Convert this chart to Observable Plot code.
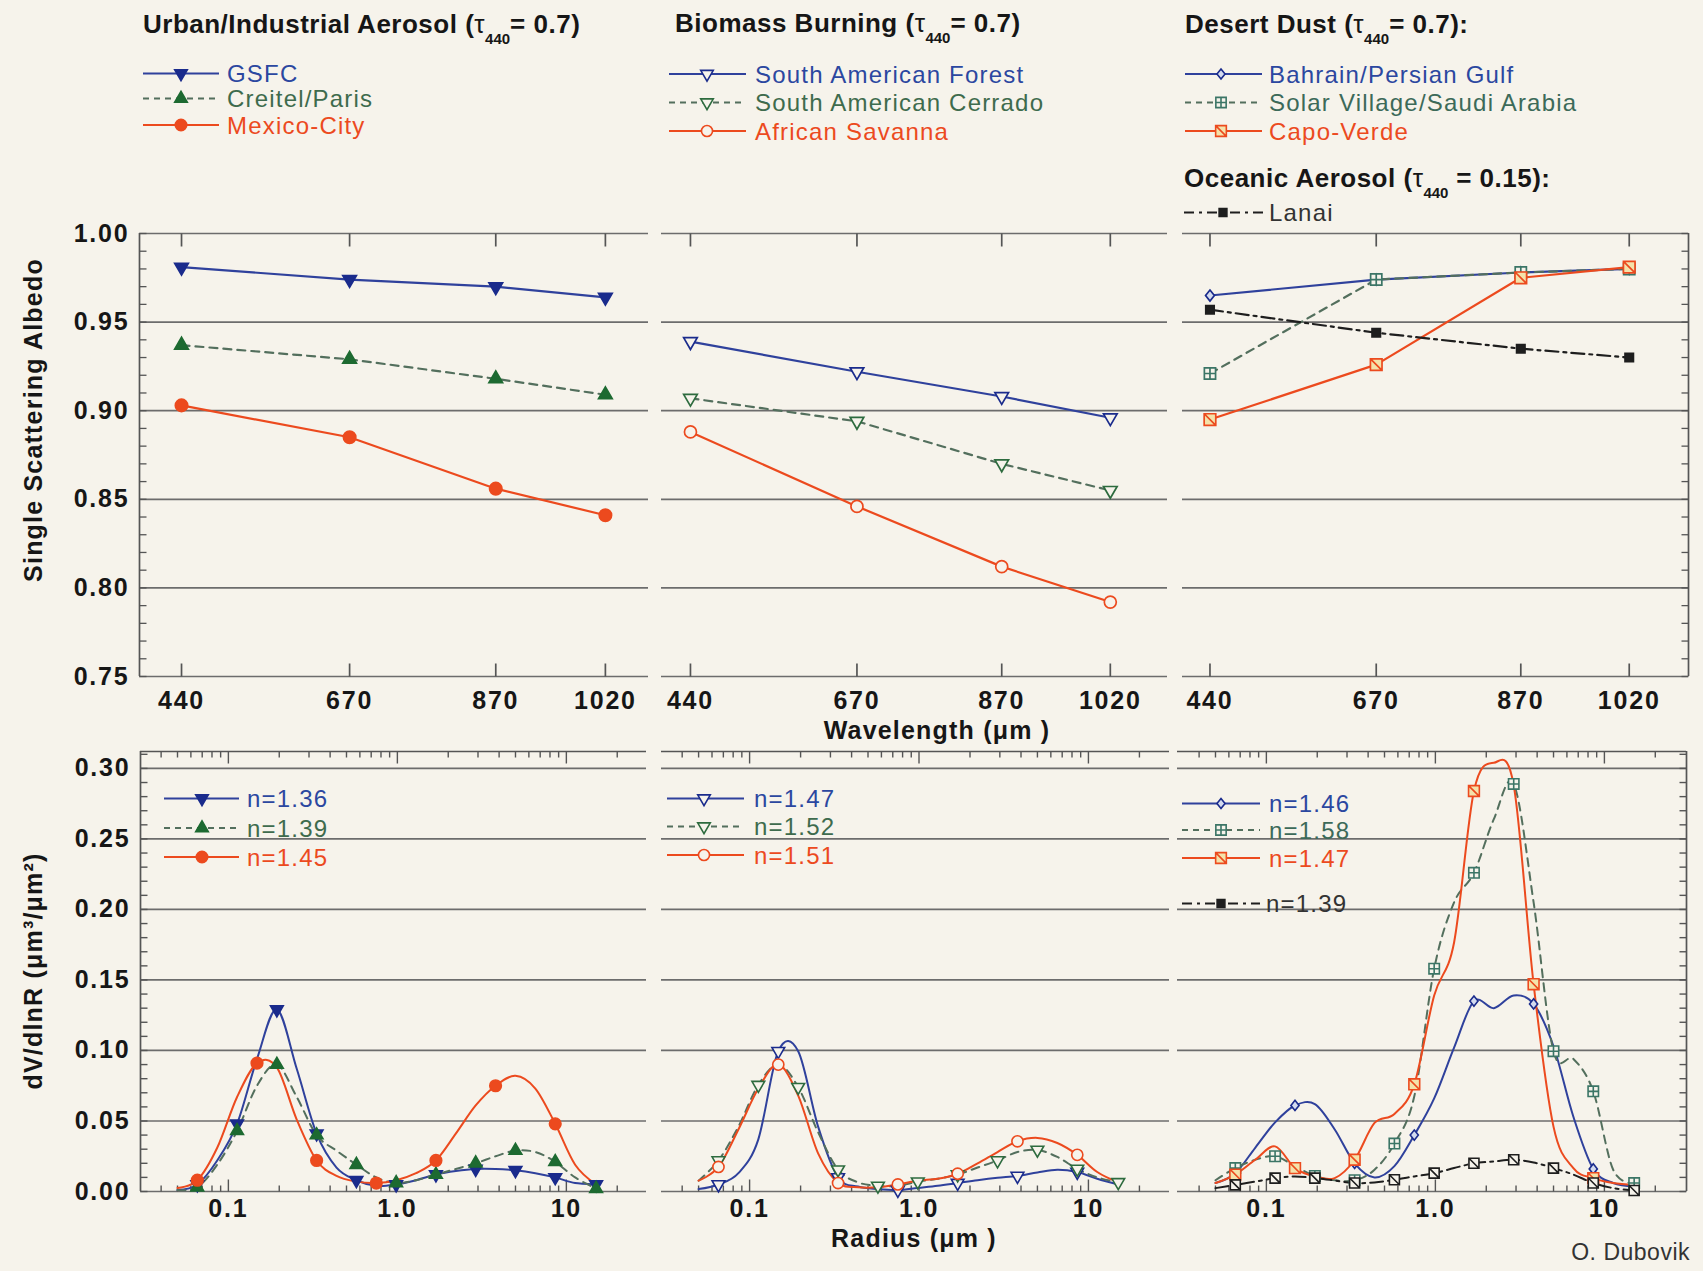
<!DOCTYPE html>
<html>
<head>
<meta charset="utf-8">
<script src="https://cdn.jsdelivr.net/npm/d3@7"></script>
<script src="https://cdn.jsdelivr.net/npm/@observablehq/plot@0.6"></script>
<style>
  html, body { margin: 0; padding: 0; background: #f6f3eb; }
  #root { position: relative; width: 1703px; height: 1271px; overflow: hidden; background: #f6f3eb; }
  #root svg { position: absolute; left: 0; top: 0; background: transparent !important; overflow: visible; }
</style>
</head>
<body>
<div id="root"></div>
<script>
const W = 1703, H = 1271;
const FONT = "'Liberation Sans', Arial, Helvetica, sans-serif";
const CREAM = "#f6f3eb", GRID = "#6c6c6c", AXIS = "#555555", TXT = "#161616";
const BLUE = "#2f419c", BLUE_D = "#1a2b8c", GREEN = "#536f5d", GREEN_D = "#1d6a31", GREEN_O = "#2d6b3e",
      RED = "#ec4a1e", TEAL = "#3b7566", BLACK = "#1e1e1e";

// ---------------- data: single scattering albedo vs wavelength ----------------
const wavelengths = [440, 670, 870, 1020];
const ssaTicks = [0.75, 0.80, 0.85, 0.90, 0.95, 1.00];
const ssa_GSFC = [0.981, 0.974, 0.970, 0.964];
const ssa_Creteil = [0.937, 0.929, 0.918, 0.909];
const ssa_MexicoCity = [0.903, 0.885, 0.856, 0.841];
const ssa_SAForest = [0.939, 0.922, 0.908, 0.896];
const ssa_SACerrado = [0.907, 0.894, 0.870, 0.855];
const ssa_AfricanSavanna = [0.888, 0.846, 0.812, 0.792];
const ssa_Bahrain = [0.965, 0.974, 0.978, 0.980];
const ssa_SolarVillage = [0.921, 0.974, 0.978, 0.980];
const ssa_CapoVerde = [0.895, 0.926, 0.975, 0.981];
const ssa_Lanai = [0.957, 0.944, 0.935, 0.930];

// ---------------- data: volume size distributions ----------------
const radii = [0.05, 0.0655, 0.0859, 0.1126, 0.1477, 0.1936, 0.2538, 0.3328, 0.4364, 0.5722, 0.7502,
               0.9836, 1.290, 1.691, 2.217, 2.907, 3.812, 4.998, 6.553, 8.593, 11.27, 15.0];
const dvTicks = [0, 0.05, 0.10, 0.15, 0.20, 0.25, 0.30];
const rMajor = [0.1, 1, 10];
const rMajorLabels = ["0.1", "1.0", "10"];
const rMinor = [0.04, 0.05, 0.06, 0.07, 0.08, 0.09, 0.2, 0.3, 0.4, 0.5, 0.6, 0.7, 0.8, 0.9,
                2, 3, 4, 5, 6, 7, 8, 9, 20];
const dv_GSFC = [0.001, 0.005, 0.022, 0.048, 0.094, 0.129, 0.087, 0.041, 0.017, 0.008, 0.004,
                 0.005, 0.008, 0.012, 0.0145, 0.016, 0.016, 0.015, 0.013, 0.010, 0.006, 0.005];
const dv_Creteil = [0.001, 0.003, 0.019, 0.043, 0.075, 0.090, 0.067, 0.040, 0.029, 0.019, 0.010,
                    0.006, 0.008, 0.012, 0.016, 0.020, 0.025, 0.029, 0.028, 0.021, 0.010, 0.002];
const dv_MexicoCity = [0.0025, 0.008, 0.031, 0.067, 0.091, 0.088, 0.051, 0.022, 0.011, 0.007, 0.006,
                       0.008, 0.013, 0.022, 0.041, 0.061, 0.075, 0.082, 0.073, 0.048, 0.019, 0.005];
const dv_SAForest = [0.0017, 0.005, 0.013, 0.037, 0.0995, 0.0995, 0.046, 0.010, 0.0035, 0.0017, 0.001,
                     0.0025, 0.004, 0.006, 0.008, 0.0097, 0.011, 0.0135, 0.0155, 0.0138, 0.009, 0.005];
const dv_SACerrado = [0.0077, 0.022, 0.046, 0.0755, 0.090, 0.074, 0.042, 0.0155, 0.0065, 0.004, 0.004,
                      0.007, 0.009, 0.012, 0.017, 0.022, 0.028, 0.0295, 0.0245, 0.016, 0.010, 0.0065];
const dv_AfricanSavanna = [0.0077, 0.0174, 0.044, 0.073, 0.090, 0.068, 0.027, 0.006, 0.003, 0.003, 0.005,
                           0.0077, 0.009, 0.0126, 0.020, 0.028, 0.0356, 0.038, 0.0344, 0.026, 0.0138, 0.0065];
const dv_Bahrain = [0.006, 0.013, 0.031, 0.049, 0.061, 0.062, 0.044, 0.020, 0.010, 0.018, 0.040,
                    0.066, 0.102, 0.135, 0.130, 0.139, 0.133, 0.103, 0.053, 0.016, 0.006, 0.0036];
const dv_SolarVillage = [0.008, 0.0166, 0.0225, 0.025, 0.018, 0.011, 0.008, 0.008, 0.0154, 0.034, 0.0675,
                         0.158, 0.205, 0.226, 0.264, 0.289, 0.205, 0.0995, 0.094, 0.071, 0.0154, 0.006];
const dv_CapoVerde = [0.006, 0.012, 0.0225, 0.032, 0.0166, 0.0107, 0.0095, 0.0225, 0.0486, 0.055, 0.076,
                      0.139, 0.1766, 0.284, 0.304, 0.288, 0.147, 0.046, 0.0166, 0.0095, 0.006, 0.0047];
const dv_Lanai = [0.0024, 0.0047, 0.007, 0.0095, 0.0107, 0.0095, 0.0078, 0.006, 0.0064, 0.0083, 0.0107,
                  0.013, 0.0166, 0.020, 0.0213, 0.0225, 0.0206, 0.0166, 0.012, 0.006, 0.0024, 0.0007];
// which size bins carry a marker
const everyOther = [1, 3, 5, 7, 9, 11, 13, 15, 17, 19, 21];
const everyThird = [1, 4, 7, 10, 13, 16, 19];

// ---------------- labels ----------------
const urbanNames = ["GSFC", "Creitel/Paris", "Mexico-City"];
const biomassNames = ["South American Forest", "South American Cerrado", "African Savanna"];
const dustNames = ["Bahrain/Persian Gulf", "Solar Village/Saudi Arabia", "Capo-Verde"];
const oceanNames = ["Lanai"];
const urbanN = ["n=1.36", "n=1.39", "n=1.45"];
const biomassN = ["n=1.47", "n=1.52", "n=1.51"];
const dustN = ["n=1.46", "n=1.58", "n=1.47"];
const oceanN = ["n=1.39"];

// ---------------- symbols ----------------
const rad = s => Math.sqrt(s / Math.PI);
const symTriDown = {draw(c, s) { const r = rad(s), w = r * 1.1, h = r * 1.9; c.moveTo(-w, -h / 3); c.lineTo(w, -h / 3); c.lineTo(0, 2 * h / 3); c.closePath(); }};
const symTriUp = {draw(c, s) { const r = rad(s), w = r * 1.1, h = r * 1.9; c.moveTo(-w, h / 3); c.lineTo(w, h / 3); c.lineTo(0, -2 * h / 3); c.closePath(); }};
const symCircle = {draw(c, s) { const r = rad(s); c.moveTo(r, 0); c.arc(0, 0, r, 0, 2 * Math.PI); }};
const symDiamond = {draw(c, s) { const r = rad(s); c.moveTo(0, -r); c.lineTo(0.8 * r, 0); c.lineTo(0, r); c.lineTo(-0.8 * r, 0); c.closePath(); }};
const symSquare = {draw(c, s) { const r = rad(s); c.rect(-r, -r, 2 * r, 2 * r); }};
const symSqPlus = {draw(c, s) { const r = rad(s); c.rect(-r, -r, 2 * r, 2 * r); c.moveTo(0, -r); c.lineTo(0, r); c.moveTo(-r, 0); c.lineTo(r, 0); }};
const symSqSlash = {draw(c, s) { const r = rad(s); c.rect(-r, -r, 2 * r, 2 * r); c.moveTo(-r, -r); c.lineTo(r, r); }};
const tickSym = (dx, dy) => ({draw(c) { c.moveTo(0, 0); c.lineTo(dx, dy); }});

// ---------------- series styles ----------------
const DASH = "8,6", DASHDOT = "13,5,3,5";
const sGSFC = {ssa: ssa_GSFC, dv: dv_GSFC, mk: everyOther, line: BLUE, dash: null, sym: symTriDown, fill: BLUE_D, stroke: BLUE_D, r: 6.2, color: "#2b47a0"};
const sCret = {ssa: ssa_Creteil, dv: dv_Creteil, mk: everyOther, line: GREEN, dash: DASH, sym: symTriUp, fill: GREEN_D, stroke: GREEN_D, r: 6.2, color: "#3e6b4d"};
const sMex = {ssa: ssa_MexicoCity, dv: dv_MexicoCity, mk: everyThird, line: RED, dash: null, sym: symCircle, fill: RED, stroke: RED, r: 6.2, color: RED};
const sSAF = {ssa: ssa_SAForest, dv: dv_SAForest, mk: everyThird, line: BLUE, dash: null, sym: symTriDown, fill: CREAM, stroke: BLUE_D, r: 6.2, color: "#2b47a0"};
const sSAC = {ssa: ssa_SACerrado, dv: dv_SACerrado, mk: everyOther, line: GREEN, dash: DASH, sym: symTriDown, fill: CREAM, stroke: GREEN_O, r: 6.2, color: "#3e6b4d"};
const sAFS = {ssa: ssa_AfricanSavanna, dv: dv_AfricanSavanna, mk: everyThird, line: RED, dash: null, sym: symCircle, fill: CREAM, stroke: RED, r: 6, color: RED};
const sBAH = {ssa: ssa_Bahrain, dv: dv_Bahrain, mk: everyThird, line: BLUE, dash: null, sym: symDiamond, fill: "#d4dbef", stroke: BLUE_D, r: 5.5, color: "#2b47a0"};
const sSOL = {ssa: ssa_SolarVillage, dv: dv_SolarVillage, mk: everyOther, line: GREEN, dash: DASH, sym: symSqPlus, fill: CREAM, stroke: TEAL, r: 5.6, color: "#3c6a59"};
const sCAP = {ssa: ssa_CapoVerde, dv: dv_CapoVerde, mk: everyThird, line: RED, dash: null, sym: symSqSlash, fill: "#f4e2aa", stroke: RED, r: 5.8, color: RED};
const sLAN = {ssa: ssa_Lanai, dv: dv_Lanai, mk: everyOther, line: BLACK, dash: DASHDOT, sym: symSquare, symB: symSqSlash, fill: BLACK, fillB: CREAM, stroke: BLACK, r: 4.2, rB: 5.4, color: "#333333"};

const root = document.getElementById("root");
const smooth = d3.curveCatmullRom.alpha(0);

function place(frame, x, y, marks) {
  const svg = Plot.plot({
    width: W, height: H,
    marginLeft: frame[0], marginRight: W - frame[1], marginTop: frame[2], marginBottom: H - frame[3],
    x: {...x, axis: null}, y: {...y, axis: null},
    style: `background: transparent; overflow: visible; font-family: ${FONT}; letter-spacing: 1.8px;`,
    marks
  });
  root.appendChild(svg);
}

const tickText = {fontSize: 25, fontWeight: "bold", fill: TXT, fontFamily: FONT};

// ---------------- top row: SSA ----------------
function topPanel(frame, xdom, series, side) {
  const ydom = [0.75, 1.0];
  const minor = d3.range(75, 101).map(v => v / 100);
  const marks = [
    Plot.ruleY(ssaTicks, {stroke: GRID, strokeWidth: 1.7}),
    Plot.dot(wavelengths, {x: d => d, y: () => ydom[1], symbol: tickSym(0, 13), r: 1, fill: "none", stroke: AXIS, strokeWidth: 1.7}),
    Plot.dot(wavelengths, {x: d => d, y: () => ydom[0], symbol: tickSym(0, -13), r: 1, fill: "none", stroke: AXIS, strokeWidth: 1.7})
  ];
  if (side === "left") {
    marks.push(Plot.ruleX([xdom[0]], {stroke: AXIS, strokeWidth: 1.7}));
    marks.push(Plot.dot(minor, {x: () => xdom[0], y: d => d, symbol: tickSym(7, 0), r: 1, fill: "none", stroke: AXIS, strokeWidth: 1.3}));
    marks.push(Plot.text(ssaTicks, {x: () => xdom[0], y: d => d, dx: -10, textAnchor: "end", text: d => d.toFixed(2), ...tickText}));
  }
  if (side === "right") {
    marks.push(Plot.ruleX([xdom[1]], {stroke: AXIS, strokeWidth: 1.7}));
    marks.push(Plot.dot(minor, {x: () => xdom[1], y: d => d, symbol: tickSym(-7, 0), r: 1, fill: "none", stroke: AXIS, strokeWidth: 1.3}));
  }
  for (const s of series) {
    const rows = wavelengths.map((w, i) => ({w, v: s.ssa[i]}));
    marks.push(Plot.line(rows, {x: "w", y: "v", stroke: s.line, strokeWidth: 2.2, strokeDasharray: s.dash}));
  }
  for (const s of series) {
    const rows = wavelengths.map((w, i) => ({w, v: s.ssa[i]}));
    marks.push(Plot.dot(rows, {x: "w", y: "v", symbol: s.sym, r: s.r, fill: s.fill, stroke: s.stroke, strokeWidth: 1.7}));
  }
  marks.push(Plot.text(wavelengths, {x: d => d, y: () => ydom[0], dy: 24, text: d => String(d), ...tickText}));
  place(frame, {type: "linear", domain: xdom}, {domain: ydom}, marks);
}

// ---------------- bottom row: size distributions ----------------
function bottomPanel(frame, xdom, series, side) {
  const ydom = [0, 0.312];
  const minor = d3.range(0, 32).map(v => v / 100);
  const tk = {r: 1, fill: "none", stroke: AXIS, strokeWidth: 1.4};
  const marks = [
    Plot.ruleY(dvTicks, {stroke: GRID, strokeWidth: 1.7}),
    Plot.ruleY([ydom[1]], {stroke: AXIS, strokeWidth: 1.7}),
    Plot.dot(rMinor, {x: d => d, y: () => ydom[1], symbol: tickSym(0, 6), ...tk}),
    Plot.dot(rMajor, {x: d => d, y: () => ydom[1], symbol: tickSym(0, 12), ...tk}),
    Plot.dot(rMinor, {x: d => d, y: () => 0, symbol: tickSym(0, -6), ...tk}),
    Plot.dot(rMajor, {x: d => d, y: () => 0, symbol: tickSym(0, -12), ...tk})
  ];
  if (side === "left") {
    marks.push(Plot.ruleX([xdom[0]], {stroke: AXIS, strokeWidth: 1.7}));
    marks.push(Plot.dot(minor, {x: () => xdom[0], y: d => d, symbol: tickSym(7, 0), ...tk}));
    marks.push(Plot.text(dvTicks, {x: () => xdom[0], y: d => d, dx: -10, textAnchor: "end", text: d => d.toFixed(2), ...tickText}));
  }
  if (side === "right") {
    marks.push(Plot.ruleX([xdom[1]], {stroke: AXIS, strokeWidth: 1.7}));
    marks.push(Plot.dot(minor, {x: () => xdom[1], y: d => d, symbol: tickSym(-7, 0), ...tk}));
  }
  for (const s of series) {
    const rows = radii.map((r, i) => ({r, v: s.dv[i], i}));
    marks.push(Plot.line(rows, {x: "r", y: "v", curve: smooth, stroke: s.line, strokeWidth: 2, strokeDasharray: s.dash}));
  }
  for (const s of series) {
    const rows = radii.map((r, i) => ({r, v: s.dv[i], i})).filter(d => s.mk.includes(d.i));
    marks.push(Plot.dot(rows, {x: "r", y: "v", symbol: s.symB || s.sym, r: (s.rB || s.r) - 0.4,
      fill: s.fillB || s.fill, stroke: s.stroke, strokeWidth: 1.6}));
  }
  marks.push(Plot.text(rMajor, {x: d => d, y: () => 0, dy: 17, text: (d, i) => rMajorLabels[i], ...tickText}));
  place(frame, {type: "log", domain: xdom}, {domain: ydom}, marks);
}

topPanel([139, 648, 233, 676], [382.5, 1079], [sGSFC, sCret, sMex], "left");
topPanel([661, 1167, 233, 676], [400, 1099], [sSAF, sSAC, sAFS], null);
topPanel([1182, 1688, 233, 676], [402, 1102], [sBAH, sSOL, sCAP, sLAN], "right");

bottomPanel([140, 646, 751, 1191], [0.0302, 29.8], [sGSFC, sCret, sMex], "left");
bottomPanel([661, 1169, 751, 1191], [0.0302, 30.1], [sSAF, sSAC, sAFS], null);
bottomPanel([1177, 1686, 751, 1191], [0.0298, 30.6], [sBAH, sSOL, sCAP, sLAN], "right");

// ---------------- overlay: titles, legends, axis titles ----------------
const ov = d3.select(root).append("svg")
  .attr("width", W).attr("height", H).attr("font-family", FONT);

function title(x, y, pre, sub, post) {
  const t = ov.append("text").attr("x", x).attr("y", y).attr("font-size", 26).attr("font-weight", "bold")
    .attr("fill", TXT).style("letter-spacing", "0.5px");
  t.append("tspan").text(pre);
  t.append("tspan").attr("font-weight", "normal").text("τ");
  t.append("tspan").attr("font-size", 15).attr("dy", 11).style("letter-spacing", "0px").text(sub);
  t.append("tspan").attr("dy", -11).text(post);
}
title(143, 33, "Urban/Industrial Aerosol (", "440", "= 0.7)");
title(675, 32, "Biomass Burning (", "440", "= 0.7)");
title(1185, 33, "Desert Dust (", "440", "= 0.7):");
title(1184, 187, "Oceanic Aerosol (", "440", " = 0.15):");

function legendRow(x0, x1, xm, xt, yc, s, label) {
  ov.append("line").attr("x1", x0).attr("x2", x1).attr("y1", yc).attr("y2", yc)
    .attr("stroke", s.line).attr("stroke-width", 2)
    .attr("stroke-dasharray", s.dash === DASHDOT ? "10,5,3,5" : s.dash ? "6,5" : null);
  ov.append("path").attr("transform", `translate(${xm},${yc})`)
    .attr("d", d3.symbol(s.sym, s.r * s.r * Math.PI * 0.85)())
    .attr("fill", s.fill).attr("stroke", s.stroke).attr("stroke-width", 1.6);
  ov.append("text").attr("x", xt).attr("y", yc + 8.5).attr("font-size", 24).attr("fill", s.color)
    .style("letter-spacing", "1.2px").text(label);
}
// top legends
[sGSFC, sCret, sMex].forEach((s, i) => legendRow(143, 219, 181, 227, [73.5, 98.5, 125][i], s, urbanNames[i]));
[sSAF, sSAC, sAFS].forEach((s, i) => legendRow(669, 746, 707, 755, [74, 102.5, 131][i], s, biomassNames[i]));
[sBAH, sSOL, sCAP].forEach((s, i) => legendRow(1185, 1262, 1221, 1269, [74, 102.5, 131][i], s, dustNames[i]));
legendRow(1184, 1265, 1223, 1269, 212.5, sLAN, oceanNames[0]);
// bottom legends
[sGSFC, sCret, sMex].forEach((s, i) => legendRow(164, 239, 202, 247, [798.5, 828, 857][i], s, urbanN[i]));
[sSAF, sSAC, sAFS].forEach((s, i) => legendRow(667, 744, 704, 754, [798.5, 826.5, 855][i], s, biomassN[i]));
[sBAH, sSOL, sCAP].forEach((s, i) => legendRow(1182, 1260, 1221, 1269, [803.5, 830, 858][i], s, dustN[i]));
legendRow(1182, 1260, 1221, 1266, 903.5, sLAN, oceanN[0]);

function axisTitle(x, y, str, rotate) {
  const t = ov.append("text").attr("font-size", 25).attr("font-weight", "bold").attr("fill", TXT)
    .attr("text-anchor", "middle").style("letter-spacing", "1.2px").text(str);
  if (rotate) t.attr("transform", `translate(${x},${y}) rotate(-90)`);
  else t.attr("x", x).attr("y", y);
}
axisTitle(42, 420, "Single Scattering Albedo", true);
axisTitle(42, 971, "dV/dlnR (μm³/μm²)", true);
axisTitle(937, 739, "Wavelength (μm )", false);
axisTitle(914, 1247, "Radius (μm )", false);

ov.append("text").attr("x", 1690).attr("y", 1260).attr("text-anchor", "end").attr("font-size", 23)
  .attr("fill", "#333").style("letter-spacing", "0.5px").text("O. Dubovik");
</script>
</body>
</html>
